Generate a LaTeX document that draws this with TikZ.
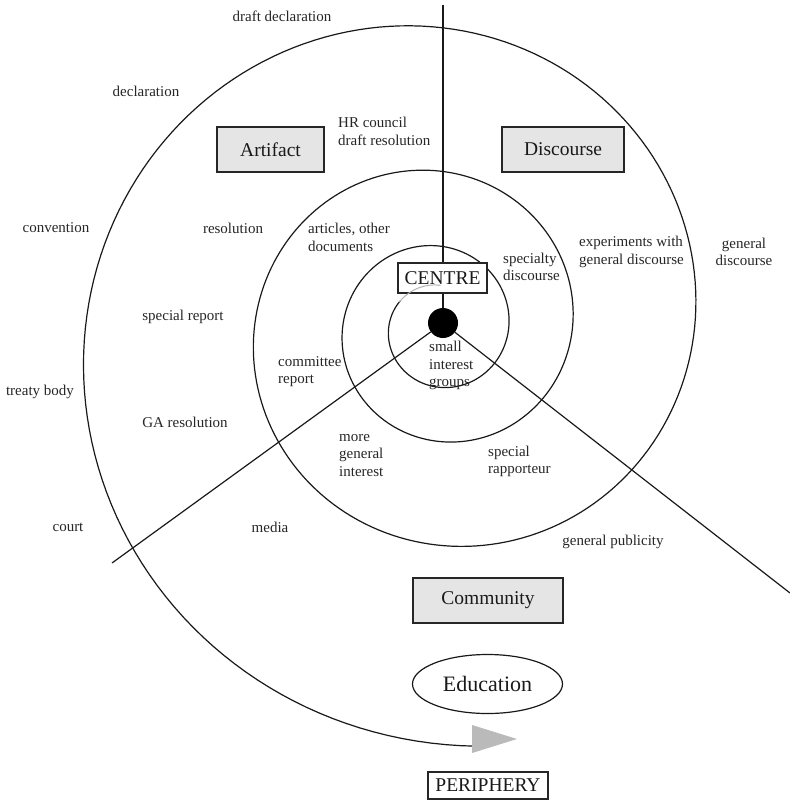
\documentclass[tikz,border=0pt]{standalone}
\usepackage{fontspec}
\setmainfont{Liberation Serif}
\usetikzlibrary{shapes.geometric}
\begin{document}
\begin{tikzpicture}[x=1pt,y=-1pt,
  declare function={sr(\t)=36.4*exp(0.1034*\t*pi/180);},
  lbl/.style={font=\fontsize{15}{17.5}\selectfont, inner sep=0pt, text=black!85, align=left},
  catbox/.style={draw=black!85, line width=1.8pt, fill=black!10, inner sep=0pt,
                 font=\fontsize{19.5}{22}\selectfont, text=black!90},
  framebox/.style={draw=black!85, line width=1.1pt, fill=white, inner sep=0pt,
                   font=\fontsize{19.5}{22}\selectfont, text=black!90},
  radial/.style={line width=1.2pt, black!90},
  spiralline/.style={line width=1.2pt, black!90},
]
\useasboundingbox (0,0) rectangle (790,804);

% hub and the three sector dividers
\node[circle, fill=black, minimum size=30pt, inner sep=0pt] (hub) at (443,323) {};
\coordinate (rayN) at (443,5);
\coordinate (raySW) at (112,563);
\coordinate (raySE) at (790,593);
\draw[radial] (hub) -- (rayN);
\draw[radial] (hub) -- (raySW);
\draw[radial] (hub) -- (raySE);

% logarithmic spiral from the centre outwards
\draw[spiralline] plot[domain=145:1355, samples=600, variable=\t]
  ({439+sr(\t)*cos(\t)},{328-sr(\t)*sin(\t)}) coordinate (spiralend);
\fill[black!27] (472,725) -- (472,753) -- (517,739) -- cycle;

% category boxes
\node[catbox, minimum width=107pt, minimum height=45pt] (artifact) at (270.5,149.5) {Artifact};
\node[catbox, minimum width=122pt, minimum height=45pt] (discourse) at (563,149.5) {Discourse};
\node[catbox, minimum width=150pt, minimum height=45pt] (community) at (488,600.5) {Community};
\node[ellipse, draw=black!90, line width=1.2pt, minimum width=150pt, minimum height=59pt,
      inner sep=0pt, font=\fontsize{22}{24}\selectfont, text=black!90] (education) at (487.5,684) {Education};

% centre and periphery
\node[framebox, minimum width=89pt, minimum height=30pt] (centre) at (442.5,278) {CENTRE};
\node[framebox, minimum width=120pt, minimum height=27pt] (periphery) at (488,785.5) {PERIPHERY};

% faint beginning of the spiral
\draw[line width=1pt, black!30] plot[domain=88:147, samples=40, variable=\t]
  ({439+sr(\t)*cos(\t)},{328-sr(\t)*sin(\t)});

% Artifact sector
\node[lbl] (l1) at (282,16) {draft declaration};
\node[lbl] (l2) at (146,91) {declaration};
\node[lbl, anchor=west] (l3) at (338,131.5) {HR council\\draft resolution};
\node[lbl] (l4) at (56,228) {convention};
\node[lbl] (l5) at (233,228) {resolution};
\node[lbl, anchor=west] (l6) at (308,237.5) {articles, other\\documents};
\node[lbl] (l7) at (183,317) {special report};
\node[lbl, anchor=west] (l8) at (278,371.5) {committee\\report};
\node[lbl] (l9) at (40,392) {treaty body};
\node[lbl] (l10) at (185,422) {GA resolution};
\node[lbl] (l11) at (68,527) {court};

% Discourse sector
\node[lbl, anchor=west] (d1) at (503,267) {specialty\\discourse};
\node[lbl, anchor=west] (d2) at (579,252) {experiments with\\general discourse};
\node[lbl, align=center] (d3) at (744,252) {general\\discourse};

% Community sector
\node[lbl, anchor=west] (c1) at (429,365.5) {small\\interest\\groups};
\node[lbl, anchor=west] (c2) at (339,455.5) {more\\general\\interest};
\node[lbl, anchor=west] (c3) at (488,461.5) {special\\rapporteur};
\node[lbl] (c4) at (270,527) {media};
\node[lbl] (c5) at (613,542) {general publicity};
\end{tikzpicture}
\end{document}
